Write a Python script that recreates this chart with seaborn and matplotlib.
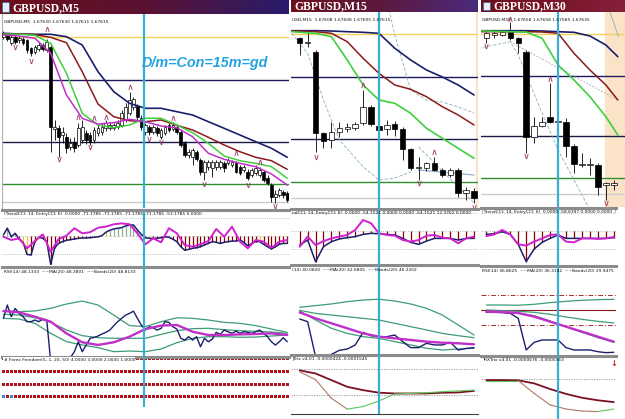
import numpy as np
import matplotlib
matplotlib.use('Agg')
import matplotlib.pyplot as plt
import seaborn as sns
from matplotlib.colors import LinearSegmentedColormap

sns.set_style('white')
plt.rcParams['font.family'] = ['DejaVu Sans']

FIG_W, FIG_H = 625, 419

# ---------------- M5 ----------------
m5_open = [168, 170, 162, 168, 165, 166, 165, 157, 153, 156, 160, 155, 158, 76, 77, 70, 68, 58, 63, 60,
           65, 72, 70, 65, 72, 73, 77, 77, 77, 78, 80, 85, 92, 98, 99, 87, 73, 78, 73, 77,
           68, 72, 80, 76, 78, 73, 62, 50, 48, 53, 45, 33, 38, 37, 38, 38, 42, 42, 40, 42,
           38, 35, 33, 30, 32, 30, 33, 27, 20, 8, 10, 13, 12]
m5_high = [174, 172, 170, 171, 169, 168, 166, 158, 160, 163, 162, 166, 160, 85, 80, 78, 72, 67, 68, 82,
           85, 75, 73, 78, 80, 82, 85, 83, 82, 85, 95, 102, 113, 108, 101, 90, 82, 80, 80, 79,
           77, 80, 82, 83, 80, 75, 64, 56, 57, 55, 47, 45, 45, 45, 45, 45, 44, 47, 45, 44,
           40, 40, 36, 37, 40, 38, 35, 30, 22, 15, 17, 15, 14]
m5_low = [166, 164, 160, 161, 162, 160, 152, 149, 151, 154, 154, 153, 53, 65, 48, 62, 52, 55, 53, 58,
          62, 61, 60, 62, 69, 70, 74, 75, 75, 76, 78, 83, 90, 95, 85, 75, 70, 70, 71, 69,
          66, 70, 73, 74, 71, 58, 48, 47, 40, 44, 30, 25, 35, 28, 35, 36, 33, 40, 38, 32,
          30, 33, 25, 28, 30, 28, 23, 20, 3, 2, 8, 7, 3]
m5_close = [172, 166, 168, 163, 167, 162, 155, 152, 158, 160, 156, 163, 78, 78, 68, 73, 57, 62, 57, 77,
            78, 65, 63, 75, 77, 78, 82, 80, 80, 82, 92, 98, 105, 106, 88, 78, 80, 73, 78, 72,
            75, 78, 75, 80, 73, 60, 50, 53, 55, 46, 33, 43, 43, 43, 43, 43, 37, 45, 43, 33,
            32, 38, 27, 35, 37, 35, 25, 22, 8, 11, 15, 10, 5]
m5_ma_x = [0, 4, 8, 12, 16, 20, 24, 28, 32, 36, 40, 44, 48, 52, 56, 60, 64, 68, 72]
m5_ma_slow = [171.7, 171, 170.7, 170.7, 168.3, 160, 133.3, 113.3, 101.7, 96.7, 96.7, 93.3, 90, 83.3, 76.7, 70, 63.3, 56.7, 47.7]
m5_ma_mid = [171, 171, 170.3, 167.7, 162.3, 133.3, 101, 88.3, 84.3, 83.3, 85, 79.7, 75, 67.7, 60, 53.3, 47.7, 44.3, 35.7]
m5_ma_fast = [171, 170.7, 169.7, 161.7, 131.7, 91.7, 80, 77.3, 80, 86.7, 86.7, 80, 72.3, 61.7, 49, 44.3, 41.7, 38.3, 26.7]
m5_ma_quick = [170, 169, 166.7, 151.7, 110, 86.7, 81, 82.3, 85.7, 83.3, 79, 77.3, 68.3, 51.7, 45.7, 41.7, 38.3, 31, 20]
m5_levels = [168, 125, 63, 21, 3]
m5_frac_up_x = [11, 19, 23, 26, 32, 43, 59, 65]
m5_frac_up_y = [176, 88, 87, 88, 118, 87, 52, 43]
m5_frac_dn_x = [3, 7, 14, 22, 37, 40, 51, 62, 69]
m5_frac_dn_y = [158, 144, 46, 58, 66, 63, 21, 20, -1]
m5_cyan = 35.7
m5_cci_trend = [4, 41, -6, 13, -20, -37, -104, -107, -33, -9,
                -15, -33, -159, -67, -43, -33, -26, -22, -19, -15,
                -13, -13, -11, -9, -6, 0, 19, 30, 37, 41,
                44, 54, 59, 59, 31, 7, -11, -15, -15, -15,
                -11, -6, -9, -20, -33, -61, -81, -76, -70, -67,
                -61, -52, -43, -33, -37, -43, -37, -33, -30, -30,
                -24, -37, -56, -43, -33, -33, -48, -61, -74, -61,
                -48, -43, -43]
m5_cci_entry_x = list(range(0, 73, 2))
m5_cci_entry = [-6, -24, -15, -70, -30, 7, -89, -19, 0, 41,
                13, 19, 44, 50, 63, 68, 63, 13, -48, -15,
                -37, 41, 13, -52, -61, -48, -30, 37, -6, 50,
                -33, -70, -24, -33, -67, -33, -24]
m5_cci_yellow = [5, 6, 26, 37, 65]
m5_rsi = [45.2, 55.7, 46.5, 53.0, 49.1, 46.5, 42.6, 42.6, 43.9, 42.6,
          44.7, 43.9, 11.1, 9.8, 9.8, 11.1, 13.2, 14.3, 19.0, 26.8,
          19.0, 24.2, 29.5, 30.2, 31.3, 32.9, 34.2, 36.0, 39.4, 42.6,
          45.2, 47.8, 49.1, 50.9, 45.2, 39.9, 36.0, 38.6, 37.8, 36.0,
          37.3, 42.6, 42.0, 38.6, 36.8, 29.5, 28.1, 30.8, 28.1, 30.8,
          22.9, 29.5, 26.8, 28.9, 34.2, 32.6, 36.0, 34.7, 33.4, 35.2,
          33.4, 34.7, 34.2, 33.4, 34.7, 36.0, 33.4, 30.8, 26.8, 24.2,
          26.8, 30.0, 26.8]
m5_band_x = list(range(0, 73, 4))
m5_rsi_ma = [51.0, 49.9, 46.5, 42.6, 33.4, 26.4, 24.3, 26.4, 30.8, 36.8, 39.5, 40.0, 34.7, 32.1, 32.1, 32.6, 32.9, 33.4, 32.1]
m5_band_up = [51.0, 50.5, 51.0, 53.1, 56.5, 58.8, 55.7, 47.8, 39.5, 38.7, 42.6, 45.7, 45.2, 43.9, 42.1, 41.3, 39.5, 36.8, 34.2]
m5_band_mid = [48.4, 47.8, 45.7, 42.1, 36.1, 31.6, 30.0, 29.5, 29.5, 29.5, 32.6, 35.5, 37.1, 37.4, 36.3, 35.5, 35.0, 34.5, 33.4]
m5_band_lo = [45.2, 44.7, 41.3, 33.4, 26.9, 24.3, 22.2, 19.0, 19.5, 19.0, 21.1, 26.1, 29.5, 30.8, 30.8, 30.3, 30.5, 31.3, 32.1]
m5_ff_rows = [4, 3, 2, 1]
m5_ff_blue_row1 = [0, 2]

# ---------------- M15 ----------------
m15_open = [167, 162, 153, 72, 65, 73, 76, 77, 82, 98, 79, 76, 81, 76, 56, 37, 37, 42, 35, 30, 35, 12, 14]
m15_high = [168, 173, 155, 73, 83, 83, 82, 83, 115, 100, 80, 85, 84, 78, 57, 48, 43, 48, 37, 37, 37, 18, 17]
m15_low = [150, 158, 53, 57, 57, 68, 73, 75, 80, 79, 74, 70, 69, 45, 35, 25, 34, 34, 28, 28, 8, 5, 2]
m15_close = [162, 163, 72, 64, 73, 77, 78, 81, 98, 81, 75, 80, 76, 56, 37, 38, 42, 35, 30, 35, 12, 15, 7]
m15_ma_x = [-1, 2, 4, 6, 8, 10, 12, 14, 16, 18, 20, 22]
m15_ma_slow = [174.3, 174.3, 174, 173.3, 172.7, 171.7, 156.7, 145, 135, 128, 120, 110]
m15_ma_mid = [174, 173.3, 171.7, 163.3, 146.7, 131.7, 120, 115.7, 108.3, 98.3, 90, 80]
m15_ma_fast = [173.3, 171.7, 168.3, 145, 120, 105, 101.7, 91.7, 76.7, 66.7, 56.7, 46.7]
m15_env_up_x = [11, 12, 14, 16, 18, 20, 22]
m15_env_up = [205, 170, 115, 105, 103, 98, 92]
m15_env_lo_x = [-1, 1, 3, 5, 8, 10, 12, 14]
m15_env_lo = [171.7, 151.7, 105, 65, 38.3, 25, 27, 33]
m15_env_tail_x = [15, 22]
m15_env_tail = [35, 30]
m15_env_drop_x = [15, 22]
m15_env_drop = [58, 2]
m15_levels = [171, 128, 66, 23, 7]
m15_frac_up_x = [8, 17]
m15_frac_up_y = [120, 53]
m15_frac_dn_x = [2, 15, 22]
m15_frac_dn_y = [48, 22, -2]
m15_cyan = 10.0
m15_cci_trend = [-78, -50, -170, -87, -59, -44, -37, -31, -19, -13, -15, -19, -22, -41, -63, -74, -56, -41, -41, -41, -50, -41, -41]
m15_cci_entry = [-87, -31, -78, -56, -41, -31, -22, 6, 61, 43, -13, -22, -26, -50, -59, -50, -26, -22, -37, -41, -68, -41, -31]
m15_rsi = [44.7, 42.6, 15.1, 15.9, 16.9, 20.1, 21.1, 24.3, 34.2, 31.6, 30.8, 30.8, 32.1, 26.9, 22.2, 22.2, 25.6, 24.3, 24.3, 26.4, 20.3, 21.6, 22.2]
m15_band_x = list(range(0, 23, 2))
m15_rsi_ma = [49.9, 45.2, 41.3, 37.4, 33.4, 30.8, 29.5, 28.2, 26.9, 26.1, 25.6, 24.8]
m15_band_up = [53.9, 55.2, 56.5, 58.3, 59.6, 60.2, 58.8, 56.5, 53.1, 47.8, 40.0, 32.1]
m15_band_mid = [51.5, 49.1, 47.8, 46.5, 45.2, 43.9, 41.3, 38.7, 36.1, 33.4, 31.6, 30.0]
m15_band_lo = [51.0, 43.9, 37.4, 33.4, 30.8, 29.5, 26.9, 24.3, 21.7, 20.3, 21.1, 21.7]
m15_trix_x = list(range(0, 23, 2))
m15_trix_slow = [-0.04, -0.16, -0.42, -0.68, -0.81, -0.91, -0.94, -0.94, -0.94, -0.91, -0.90, -0.84]
m15_trix_fast = [-0.10, -0.40, -1.13, -1.55, -1.45, -1.23, -0.96, -0.94, -0.91, -0.87, -0.84, -0.81]

# ---------------- M30 ----------------
m30_open = [167, 170, 170, 174, 167, 153, 68, 79, 88, 83, 83, 59, 40, 40, 40, 20, 20]
m30_high = [173, 175, 174, 183, 168, 155, 88, 88, 122, 84, 87, 61, 52, 47, 42, 23, 25]
m30_low = [162, 167, 169, 165, 152, 52, 62, 78, 82, 83, 48, 32, 38, 30, 10, 5, 15]
m30_close = [172, 172, 173, 167, 162, 68, 79, 83, 83, 83.5, 59, 41, 40.5, 40.5, 18, 22, 22]
m30_ma_x = [-1, 1, 3, 5, 7, 9, 11, 13, 15, 16.5]
m30_ma_slow = [174.3, 174.3, 174.3, 174.3, 174, 173.3, 172.7, 169, 160, 148.3]
m30_ma_mid = [173.3, 173.3, 173.3, 173.3, 173, 171.7, 151.7, 135, 120, 105]
m30_ma_fast = [174.3, 173.7, 173.3, 173, 166.7, 140, 125, 108.3, 88.3, 70]
m30_env_a_x = [3, 16.5]
m30_env_a = [163.3, 105]
m30_env_b_x = [-1, 3, 4, 7, 9, 12.8]
m30_env_b = [156.7, 163.3, 150, 91.7, 55, -2]
m30_env_c_x = [15, 16.6]
m30_env_c = [205, 168]
m30_levels = [170.7, 129, 69, 27.3, 10.7]
m30_frac_up_x = [3, 8]
m30_frac_up_y = [186, 126]
m30_frac_dn_x = [0, 5, 15]
m30_frac_dn_y = [159, 49, 2]
m30_cyan = 9.0
m30_shade_from = 14.95
m30_cci_trend = [-19, -15, -4, -19, -74, -170, -100, -63, -41, -22, -41, -41, -41, -41, -41, -41, -37]
m30_cci_entry = [-28, -19, 6, -19, -74, -81, -59, -41, -22, -19, -59, -63, -41, -41, -44, -41, -33]
m30_rsi = [47.0, 47.0, 46.6, 45.7, 39.0, -3.1, 7.1, 10.2, 10.2, 10.2, 0, -3.1, -3.1, -3.1, -5.4, -6.7, -6.2]
m30_band_x = list(range(0, 17, 2))
m30_rsi_ma = [47.9, 47.5, 46.1, 41.3, 34.6, 27.9, 21.3, 14.6, 7.9]
m30_band_up = [56.8, 56.8, 56.4, 57.7, 59.9, 61.7, 63.0, 63.9, 64.3]
m30_band_mid = [50.1, 49.3, 48.4, 47.0, 44.4, 40.8, 37.7, 35.0, 32.8]
m30_band_lo = [47.9, 47.0, 45.7, 42.6, 35.5, 27.9, 20.4, 13.3, 7.1]
m30_rsi_levels = [70, 50, 30]
m30_trix_x = list(range(0, 17, 2))
m30_trix_slow = [-0.04, -0.04, -0.05, -0.17, -0.39, -0.58, -0.73, -0.83, -0.90]
m30_trix_fast = [-0.06, -0.06, -0.06, -0.56, -1.01, -1.17, -1.25, -1.27, -1.17]

NAVY = '#1b1f6b'
DARKRED = '#8b1a1a'
GREEN = '#3fcf3f'
MAGENTA = '#c030c8'
CYAN = '#3aaed2'
BAND = '#3c9c78'
FRACTAL = '#9a3060'
LEVEL_COLORS = ['#f2d35a', '#1c1c5c', '#1a1a48', '#2f8f2f', '#cccccc']

fig = plt.figure(figsize=(FIG_W / 100, FIG_H / 100), dpi=100)
fig.patch.set_facecolor('white')


def px_axes(x0, y0, x1, y1):
    ax = fig.add_axes([x0 / FIG_W, 1 - y1 / FIG_H, (x1 - x0) / FIG_W, (y1 - y0) / FIG_H])
    ax.set_xticks([])
    ax.set_yticks([])
    for s in ax.spines.values():
        s.set_visible(False)
    ax.set_facecolor('white')
    return ax


def sub_window(box, xlim, ylim):
    ax = px_axes(*box)
    ax.set_xlim(*xlim)
    ax.set_ylim(*ylim)
    ax.spines['top'].set_visible(True)
    ax.spines['top'].set_color('#8c8c8c')
    ax.spines['top'].set_linewidth(2.2)
    return ax


def label(ax, text, box=False):
    kw = dict(facecolor='white', edgecolor='none', pad=0.2) if box else None
    ax.text(0.006, 0.97 if not box else 0.99, text, transform=ax.transAxes, ha='left', va='top',
            fontsize=3.2, color='#111111', clip_on=True, zorder=10, bbox=kw)


def title_bar(box, text, colors, icon=False):
    ax = px_axes(*box)
    cmap = LinearSegmentedColormap.from_list('bar', colors)
    ax.imshow(np.linspace(0, 1, 256)[None, :], aspect='auto', cmap=cmap, extent=(0, 1, 0, 1))
    ax.set_xlim(0, 1)
    ax.set_ylim(0, 1)
    w = box[2] - box[0]
    x_text = 12 / w if icon else 3 / w
    if icon:
        ax.add_patch(plt.Rectangle((2 / w, 0.15), 7 / w, 0.7, facecolor='#e8eef8', edgecolor='#3060a0', lw=0.5))
    ax.text(x_text, 0.45, text, color='white', fontsize=8.4, fontweight='bold',
            family='Liberation Serif', va='center', ha='left')


def candles(ax, o, h, l, c, width):
    x = np.arange(len(o))
    o = np.array(o, dtype=float)
    c = np.array(c, dtype=float)
    ax.vlines(x, l, h, color='black', lw=0.6, zorder=3)
    body = np.maximum(np.abs(c - o), 0.9)
    colors = np.where(c >= o, 'white', 'black')
    ax.bar(x, body, bottom=np.minimum(o, c), width=width, color=colors,
           edgecolor='black', linewidth=0.5, zorder=4)


def main_chart(box, xlim, ylim, ohlc, width, ma_x, mas, levels, up, dn, cyan, name):
    ax = px_axes(*box)
    ax.set_xlim(*xlim)
    ax.set_ylim(*ylim)
    for lv, col in zip(levels, LEVEL_COLORS):
        ax.axhline(lv, color=col, lw=1.0, zorder=1)
    candles(ax, *ohlc, width=width)
    for vals, col, lw in mas:
        sns.lineplot(x=ma_x, y=vals, ax=ax, color=col, linewidth=lw, zorder=5)
    ax.scatter(up[0], up[1], marker=r'$\wedge$', s=14, color=FRACTAL, linewidths=0, zorder=6)
    ax.scatter(dn[0], dn[1], marker=r'$\vee$', s=14, color=FRACTAL, linewidths=0, zorder=6)
    ax.axvline(cyan, color=CYAN, lw=1.6, zorder=8)
    label(ax, name)
    ax.set_xlabel('')
    ax.set_ylabel('')
    return ax


def cci_window(box, xlim, ylim, trend, entry_x, entry, yellow, cyan, text):
    ax = sub_window(box, xlim, ylim)
    x = np.arange(len(trend))
    cols = ['#e8c830' if i in yellow else ('#8fb09a' if v > 0 else '#8b0000') for i, v in enumerate(trend)]
    for lv in [100, 0, -100]:
        ax.axhline(lv, color='#b0b0b0', lw=0.6, ls=(0, (1, 1.5)), zorder=1)
    ax.vlines(x, 0, trend, colors=cols, lw=0.9, zorder=2)
    sns.lineplot(x=x, y=trend, ax=ax, color=NAVY, linewidth=1.1, zorder=3)
    sns.lineplot(x=entry_x, y=entry, ax=ax, color='#d020d0', linewidth=1.4, zorder=4)
    ax.axvline(cyan, color=CYAN, lw=1.6, zorder=8)
    label(ax, text)
    ax.set_xlabel('')
    ax.set_ylabel('')
    return ax


def rsi_window(box, xlim, ylim, rsi, band_x, ma, up, mid, lo, cyan, text, levels=None):
    ax = sub_window(box, xlim, ylim)
    if levels:
        ax.axhline(levels[0], color='#a03030', lw=0.7, ls=(0, (5, 2, 1, 2)), zorder=1)
        ax.axhline(levels[1], color='#8b1a1a', lw=0.8, zorder=1)
        ax.axhline(levels[2], color='#a03030', lw=0.7, ls=(0, (5, 2, 1, 2)), zorder=1)
    for b in (up, mid, lo):
        sns.lineplot(x=band_x, y=b, ax=ax, color=BAND, linewidth=0.9, zorder=2)
    sns.lineplot(x=np.arange(len(rsi)), y=rsi, ax=ax, color=NAVY, linewidth=1.0, zorder=3)
    sns.lineplot(x=band_x, y=ma, ax=ax, color=MAGENTA, linewidth=1.7, zorder=4)
    ax.axvline(cyan, color=CYAN, lw=1.6, zorder=8)
    label(ax, text)
    ax.set_xlabel('')
    ax.set_ylabel('')
    return ax


def trix_window(box, xlim, ylim, tx, slow, fast, levels, cyan, text):
    ax = sub_window(box, xlim, ylim)
    for lv in levels:
        ax.axhline(lv, color='#909090', lw=0.6, ls=(0, (1.5, 1.5)), zorder=1)
    sns.lineplot(x=tx, y=slow, ax=ax, color='#7a1020', linewidth=1.3, zorder=3)
    for i in range(len(tx) - 1):
        col = '#5cc85c' if fast[i + 1] >= fast[i] else '#b07868'
        ax.plot(tx[i:i + 2], fast[i:i + 2], color=col, lw=0.8, zorder=4)
    ax.axvline(cyan, color=CYAN, lw=1.6, zorder=8)
    label(ax, text)
    ax.set_xlabel('')
    ax.set_ylabel('')
    return ax


# ===== Panel 1 : M5 =====
m5_xlim = (-0.35, 72.45)
title_bar((0, 0, 289, 14), 'GBPUSD,M5', ['#6e0f1c', '#5a1232', '#2a1c6c'], icon=True)
ax1 = main_chart((2, 14, 289, 208), m5_xlim, (-3, 191), (m5_open, m5_high, m5_low, m5_close), 0.7,
                 m5_ma_x, [(m5_ma_slow, NAVY, 1.2), (m5_ma_mid, DARKRED, 1.1),
                           (m5_ma_fast, GREEN, 1.1), (m5_ma_quick, MAGENTA, 1.1)],
                 m5_levels, (m5_frac_up_x, m5_frac_up_y), (m5_frac_dn_x, m5_frac_dn_y), m5_cyan,
                 'GBPUSD,M5  1.67630 1.67630 1.67611 1.67615')
ax1.spines['left'].set_visible(True)
ax1.spines['left'].set_color('#b0b0b0')
ax1.text(0.487, 0.745, 'D/m=Con=15m=gd', transform=ax1.transAxes, family='Liberation Sans',
         fontsize=10.4, fontweight='bold', style='italic', color='#22a3e0', va='center', ha='left', zorder=9)

cci_window((2, 210, 289, 266), m5_xlim, (-168, 142), m5_cci_trend, m5_cci_entry_x, m5_cci_entry,
           m5_cci_yellow, m5_cyan,
           '(TrendCCI: 14, EntryCCI: 6)  0.0000 -71.1785 -71.1785 -71.1785 -71.1785 -53.1785 0.0000')
rsi_window((2, 267, 289, 356), m5_xlim, (15.6, 85.6), m5_rsi, m5_band_x, m5_rsi_ma,
           m5_band_up, m5_band_mid, m5_band_lo, m5_cyan,
           'RSI(14) 48.1333  ~~MA(20) 48.3801  ~~Bands(20) 48.8133')

ax_ff = sub_window((2, 357, 289, 407), m5_xlim, (0.2, 4.15))
ff_x = np.arange(len(m5_open))
for row in m5_ff_rows:
    cols = ['#3d85c6' if (row == 1 and i in m5_ff_blue_row1) else '#b3141b' for i in ff_x]
    ax_ff.scatter(ff_x, [row] * len(ff_x), marker='s', s=4.5, c=cols, linewidths=0, zorder=2)
ax_ff.axvline(m5_cyan, color=CYAN, lw=1.6, zorder=8)
label(ax_ff, '# Forex Freedom(5, 1, 20, 50) 4.0000 3.0000 2.0000 1.0000', box=True)

# ===== Panel 2 : M15 =====
m15_xlim = (-1.1, 22.5)
title_bar((291, 0, 478, 12), 'GBPUSD,M15', ['#6e0f1c', '#5c1a40', '#4a2a7c'])
ax2 = main_chart((291, 12, 478, 208), m15_xlim, (-3, 193), (m15_open, m15_high, m15_low, m15_close), 0.68,
                 m15_ma_x, [(m15_ma_slow, NAVY, 1.2), (m15_ma_mid, DARKRED, 1.1), (m15_ma_fast, GREEN, 1.2)],
                 m15_levels, (m15_frac_up_x, m15_frac_up_y), (m15_frac_dn_x, m15_frac_dn_y), m15_cyan,
                 'USD,M15  1.67608 1.67608 1.67605 1.67615')
ax2.axvspan(22.2, 22.5, color='#fbe3c8', zorder=0)
for ex, ey in [(m15_env_up_x, m15_env_up), (m15_env_lo_x, m15_env_lo), (m15_env_drop_x, m15_env_drop)]:
    ax2.plot(ex, ey, color='#86b4b4', lw=0.6, ls=(0, (4, 2)), zorder=2)
ax2.plot(m15_env_tail_x, m15_env_tail, color='#8fb0d8', lw=0.9, zorder=2)

cci_window((291, 209, 478, 264), m15_xlim, (-183, 122), m15_cci_trend, np.arange(len(m15_cci_entry)),
           m15_cci_entry, [], m15_cyan,
           'ndCCI: 14, EntryCCI: 6)  0.0000 -54.1521 0.0000 0.0000 -54.1521 12.3762 0.0000')
rsi_window((291, 265, 478, 354), m15_xlim, (17.2, 87.1), m15_rsi, m15_band_x, m15_rsi_ma,
           m15_band_up, m15_band_mid, m15_band_lo, m15_cyan,
           '(14) 40.0820  ~~MA(20) 42.6805  ~~Bands(20) 46.2202')
ax_t2 = trix_window((291, 355, 478, 414), m15_xlim, (-1.74, 0.56), m15_trix_x, m15_trix_slow,
                    m15_trix_fast, [0, -1.0], m15_cyan, 'JTrix v4.01 -0.0000424 -0.0001545')
ax_t2.spines['bottom'].set_visible(True)
ax_t2.spines['bottom'].set_color('#404040')
ax_t2.spines['bottom'].set_linewidth(0.8)

# ===== Panel 3 : M30 =====
m30_xlim = (-0.67, 17.4)
m30_sub_xlim = (-0.67, 16.27)
title_bar((481, 0, 625, 12), 'GBPUSD,M30', ['#6e0f1c', '#7a1628', '#84203a'], icon=True)
ax3 = main_chart((481, 12, 625, 207), m30_xlim, (-2, 193), (m30_open, m30_high, m30_low, m30_close), 0.68,
                 m30_ma_x, [(m30_ma_slow, NAVY, 1.2), (m30_ma_mid, DARKRED, 1.1), (m30_ma_fast, GREEN, 1.2)],
                 m30_levels, (m30_frac_up_x, m30_frac_up_y), (m30_frac_dn_x, m30_frac_dn_y), m30_cyan,
                 'GBPUSD,M30  1.67658 1.67658 1.67585 1.67635')
ax3.axvspan(m30_shade_from, m30_xlim[1], color='#fbe3c8', zorder=0)
ax3.plot(m30_env_a_x, m30_env_a, color='#a0a0a0', lw=0.6, ls=(0, (2, 2)), zorder=2)
ax3.plot(m30_env_b_x, m30_env_b, color='#86b4b4', lw=0.6, ls=(0, (4, 2)), zorder=2)
ax3.plot(m30_env_c_x, m30_env_c, color='#86b4b4', lw=0.6, zorder=2)

cci_window((481, 208, 616, 265), m30_sub_xlim, (-189, 128), m30_cci_trend, np.arange(len(m30_cci_entry)),
           m30_cci_entry, [], m30_cyan,
           '(TrendCCI: 14, EntryCCI: 6)  0.0000 -58.6397 0.0000 0.0000 -58.')
rsi_window((481, 266, 616, 355), m30_sub_xlim, (-9.8, 108.7), m30_rsi, m30_band_x, m30_rsi_ma,
           m30_band_up, m30_band_mid, m30_band_lo, m30_cyan,
           'RSI(14) 36.8625  ~~MA(20) 36.3142  ~~Bands(20) 29.9475', levels=m30_rsi_levels)
ax_t3 = trix_window((481, 356, 616, 419), m30_sub_xlim, (-1.56, 0.9), m30_trix_x, m30_trix_slow,
                    m30_trix_fast, [0], m30_cyan, 'TriXTrix v4.01 -0.0000676 -0.0000363')
ax_t3.text(16, 0.62, '\u2193', color='#cc2020', fontsize=6, fontweight='bold', ha='center', va='center', zorder=9)

fig.savefig('out.png', dpi=100, facecolor='white')
